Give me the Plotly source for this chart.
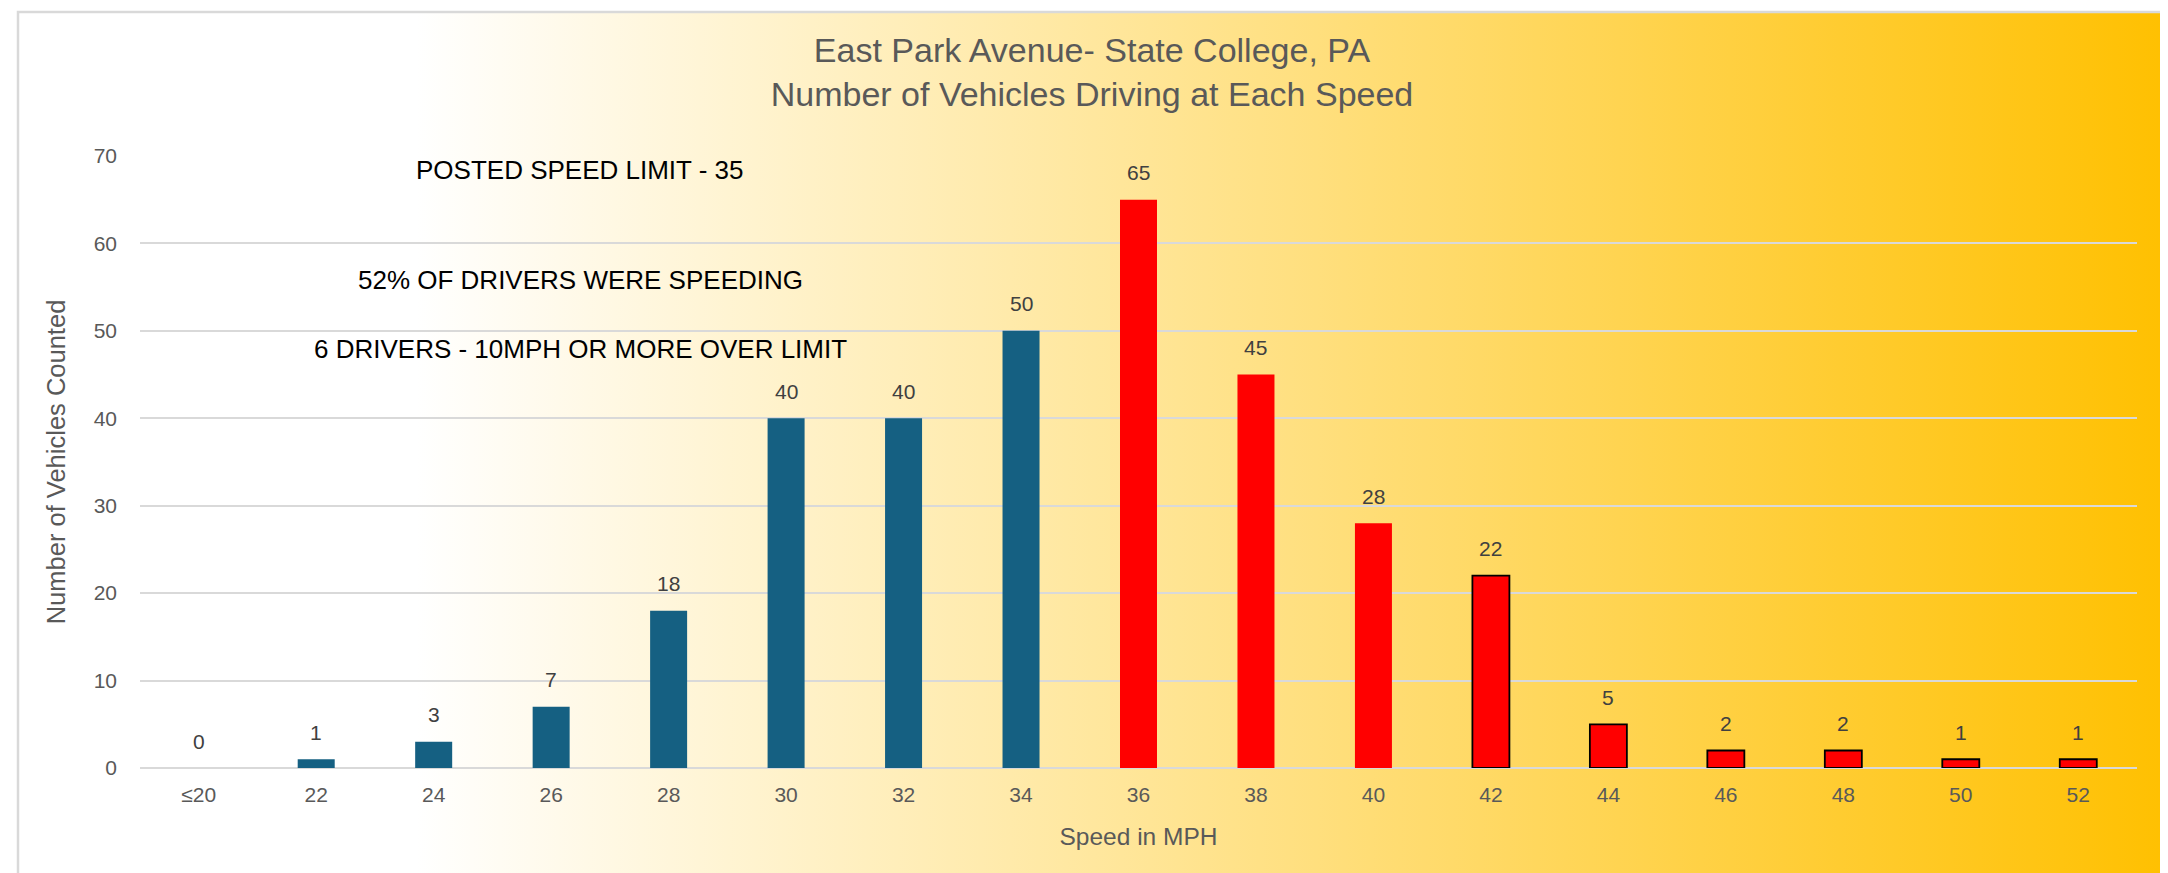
import base64
import plotly.graph_objects as go

# ---------------- data ----------------
speed_labels = ["≤20", "22", "24", "26", "28", "30", "32", "34", "36",
                "38", "40", "42", "44", "46", "48", "50", "52"]
speeds = [20, 22, 24, 26, 28, 30, 32, 34, 36, 38, 40, 42, 44, 46, 48, 50, 52]
vehicle_counts = [0, 1, 3, 7, 18, 40, 40, 50, 65, 45, 28, 22, 5, 2, 2, 1, 1]
posted_limit = 35
notes = ["POSTED SPEED LIMIT - 35",
         "52% OF DRIVERS WERE SPEEDING",
         "6 DRIVERS - 10MPH OR MORE OVER LIMIT"]
note_y = [68.4, 55.8, 47.9]

# ---------------- styles ----------------
FONT = "Liberation Sans, Arial, sans-serif"
BLUE = "#156082"
RED = "#FF0000"
W, H = 2168, 873
L, R, T, B = 132, 39, 148, 113
pw, ph = W - L - R, H - T - B

def px_x(p):  # pixel -> paper x
    return (p - L) / pw

def px_y(p):  # pixel -> paper y
    return (H - B - p) / ph

bar_colors = [RED if s > posted_limit else BLUE for s in speeds]
line_w = [1.8 if s >= 42 else 0 for s in speeds]
line_c = ["#000000" if s >= 42 else "rgba(0,0,0,0)" for s in speeds]

fig = go.Figure()
fig.add_trace(go.Bar(
    x=speed_labels, y=vehicle_counts,
    marker=dict(color=bar_colors, line=dict(color=line_c, width=line_w)),
    hoverinfo="x+y", showlegend=False,
))

# data labels (x given as category index)
for i, v in enumerate(vehicle_counts):
    fig.add_annotation(x=i, y=v, text=str(v), showarrow=False,
                       xref="x", yref="y",
                       yanchor="middle", yshift=27,
                       font=dict(family=FONT, size=21, color="#404040"))

# notes
for txt, yv in zip(notes, note_y):
    fig.add_annotation(xref="paper", yref="y", x=px_x(572), y=yv, text=txt,
                       showarrow=False, xanchor="center", yanchor="middle",
                       font=dict(family=FONT, size=26, color="#000000"))

# gradient background as an SVG image
svg = ("<svg xmlns='http://www.w3.org/2000/svg' width='2153' height='880' "
       "preserveAspectRatio='none' viewBox='0 0 2153 880'>"
       "<defs><linearGradient id='g' x1='0' x2='1' y1='0' y2='0'>"
       "<stop offset='0' stop-color='#FFFFFF'/>"
       "<stop offset='0.185' stop-color='#FFFFFF'/>"
       "<stop offset='0.5' stop-color='#FFE79E'/>"
       "<stop offset='1' stop-color='#FFC000'/>"
       "</linearGradient></defs>"
       "<rect x='0' y='0' width='2153' height='880' fill='url(#g)'/></svg>")
src = "data:image/svg+xml;base64," + base64.b64encode(svg.encode()).decode()
x0, x1 = px_x(10), px_x(2163)
y0, y1 = px_y(4), px_y(884)
fig.add_layout_image(source=src, xref="paper", yref="paper",
                     x=x0, y=y0, sizex=x1 - x0, sizey=y0 - y1,
                     xanchor="left", yanchor="top", sizing="stretch",
                     layer="below")
fig.add_shape(type="rect", xref="paper", yref="paper",
              x0=x0, x1=x1, y0=y1, y1=y0,
              line=dict(color="#D9D9D9", width=2.5), fillcolor="rgba(0,0,0,0)",
              layer="above")

fig.update_layout(
    width=W, height=H,
    margin=dict(l=L, r=R, t=T, b=B, autoexpand=False),
    paper_bgcolor="#FFFFFF",
    plot_bgcolor="rgba(0,0,0,0)",
    bargap=0.685,
    title=dict(text="East Park Avenue- State College, PA<br>Number of Vehicles Driving at Each Speed",
               x=0.5, xanchor="center", y=1 - 54 / H, yanchor="middle",
               font=dict(family=FONT, size=34, color="#595959")),
    font=dict(family=FONT, color="#595959"),
)
fig.update_xaxes(
    type="category", range=[-0.5, len(speed_labels) - 0.5], automargin=False,
    showgrid=False, showline=False, zeroline=False,
    tickfont=dict(family=FONT, size=21, color="#595959"),
    ticks="", ticklabelstandoff=12,
    title=dict(text="Speed in MPH", standoff=22,
               font=dict(family=FONT, size=24.5, color="#595959")),
)
fig.update_yaxes(
    range=[0, 70], dtick=10, automargin=False,
    showgrid=True, gridcolor="#D9D9D9", gridwidth=1.5,
    zeroline=True, zerolinecolor="#D9D9D9", zerolinewidth=1.5,
    showline=False, ticks="", ticklabelstandoff=22,
    tickfont=dict(family=FONT, size=21, color="#595959"),
    title=dict(text="Number of Vehicles Counted", standoff=20,
               font=dict(family=FONT, size=25.5, color="#595959")),
)

fig.write_html("out.html")
